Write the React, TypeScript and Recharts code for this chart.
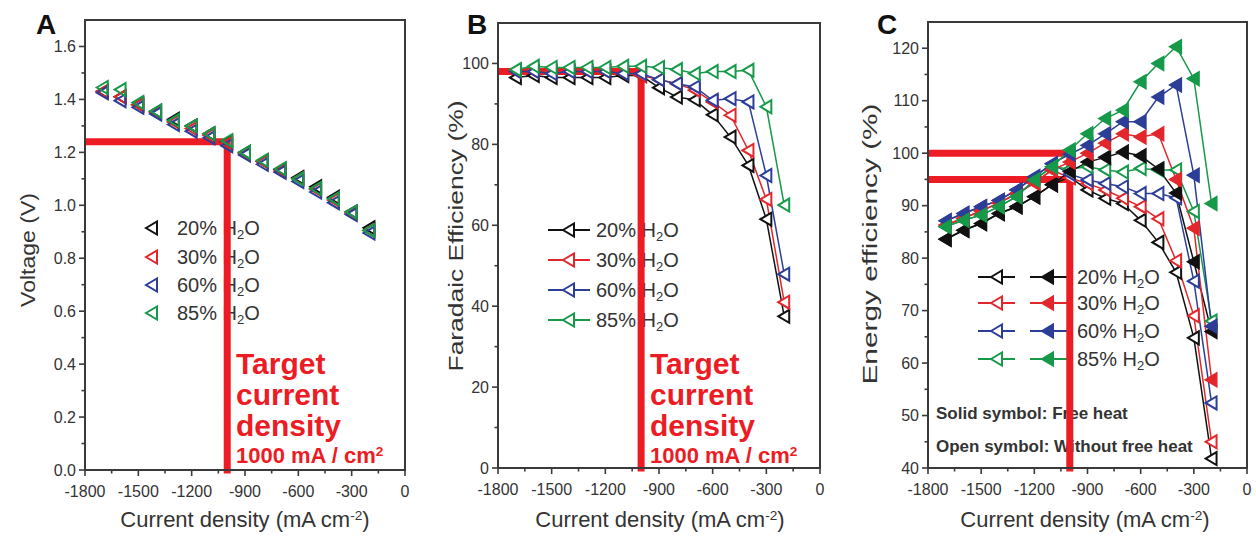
import React from "react";
import { LineChart, Line, XAxis, YAxis, ReferenceLine, ReferenceArea } from "recharts";

const FONT = '"Liberation Sans", Arial, Helvetica, sans-serif';
const AXIS = "#3a3a3a";
const TEXT = "#333";
const MARK = "#ed1c24";
const BLACK = "#111111";
const RED = "#e2272c";
const BLUE = "#2c3e98";
const GREEN = "#17994a";
const seriesColors = [BLACK, RED, BLUE, GREEN];
const waterLabels = ["20%", "30%", "60%", "85%"];

// current density of every measured point, mA cm-2
const currentDensity = [-1700, -1600, -1500, -1400, -1300, -1200, -1100, -1000, -900, -800, -700, -600, -500, -400, -300, -200];

// A: voltage (V)
const voltage20 = [1.43, 1.41, 1.38, 1.355, 1.325, 1.3, 1.27, 1.24, 1.2, 1.165, 1.135, 1.105, 1.07, 1.03, 0.975, 0.915];
const voltage30 = [1.43, 1.41, 1.38, 1.35, 1.315, 1.29, 1.265, 1.235, 1.195, 1.165, 1.13, 1.1, 1.06, 1.02, 0.97, 0.905];
const voltage60 = [1.425, 1.395, 1.37, 1.345, 1.305, 1.28, 1.255, 1.225, 1.19, 1.155, 1.125, 1.09, 1.05, 1.01, 0.965, 0.895];
const voltage85 = [1.445, 1.437, 1.388, 1.356, 1.32, 1.3, 1.27, 1.244, 1.2, 1.17, 1.138, 1.1, 1.063, 1.025, 0.975, 0.905];

// B: faradaic efficiency (%)
const fe20 = [96.5, 97, 96.5, 96.5, 96.5, 96.5, 97, 97, 94, 91.7, 91, 87.3, 81.8, 74.8, 61.5, 37.5];
const fe30 = [98, 98, 98, 98, 98, 98, 97.5, 97, 96, 95, 93.4, 90.5, 87.2, 78.5, 66.4, 41];
const fe60 = [98, 98, 97.5, 98, 98, 98, 97.5, 97.5, 96, 95, 94.2, 90.9, 91.3, 90.5, 72.3, 47.9];
const fe85 = [98.5, 99.3, 99, 99, 99, 99, 99.3, 99.3, 99, 98.5, 97.5, 98, 98, 98.3, 89.3, 65];

// C: energy efficiency (%), open = without free heat, solid = free heat
const eeOpen20 = [83.6, 85.3, 86.6, 88.5, 89.8, 91.7, 94, 95.5, 93, 91.4, 90.4, 87.2, 83, 77.3, 64.8, 41.8];
const eeOpen30 = [86.3, 87.6, 89, 90.5, 92.3, 94.3, 96.8, 95.3, 94.2, 93, 91.4, 89.8, 87.5, 79.5, 69, 45];
const eeOpen60 = [87.1, 88.5, 89.8, 91, 93, 95.5, 98, 96, 94.9, 94.2, 93.6, 92.3, 92.3, 91.5, 75.6, 52.4];
const eeOpen85 = [86, 87.2, 88.2, 89.8, 91.7, 94.9, 97.4, 97, 97.4, 96.8, 96.4, 97.1, 96.8, 96.8, 88.9, 68];
const eeSolid20 = [83.6, 85.3, 86.6, 88.5, 89.8, 91.7, 94, 96.5, 98.3, 99.2, 100.2, 99.5, 97, 92.4, 79.3, 66];
const eeSolid30 = [86.3, 87.6, 89, 90.5, 92.3, 94.3, 96.8, 98.3, 100, 101.9, 103.7, 103.1, 103.7, 95, 85.7, 56.8];
const eeSolid60 = [87.1, 88.5, 89.8, 91, 93, 95.5, 98, 99.8, 101.5, 103.7, 106, 106, 110.7, 113, 95.8, 67];
const eeSolid85 = [86, 87.2, 88.2, 89.8, 91.7, 94.9, 97.4, 100.6, 103.7, 106.6, 108.2, 113.6, 117.1, 120.3, 114.2, 90.4];

// axes
const xTicks = [-1800, -1650, -1500, -1350, -1200, -1050, -900, -750, -600, -450, -300, -150, 0];
const xMajor = [-1800, -1500, -1200, -900, -600, -300, 0];
const voltageTicks = [0, 0.1, 0.2, 0.3, 0.4, 0.5, 0.6, 0.7, 0.8, 0.9, 1.0, 1.1, 1.2, 1.3, 1.4, 1.5, 1.6];
const voltageMajor = [0, 0.2, 0.4, 0.6, 0.8, 1.0, 1.2, 1.4, 1.6];
const feTicks = [0, 10, 20, 30, 40, 50, 60, 70, 80, 90, 100];
const feMajor = [0, 20, 40, 60, 80, 100];
const eeTicks = [40, 45, 50, 55, 60, 65, 70, 75, 80, 85, 90, 95, 100, 105, 110, 115, 120];
const eeMajor = [40, 50, 60, 70, 80, 90, 100, 110, 120];

// target lines
const targetCurrent = -1000;
const targetVoltage = 1.24;
const targetFe = 98;
const targetEe = [100, 95];

const rows = (cols: number[][]) =>
  currentDensity.map((x, i) => {
    const r: any = { x };
    cols.forEach((c, k) => (r["s" + k] = c[i]));
    return r;
  });

const voltageRows = rows([voltage20, voltage30, voltage60, voltage85]);
const feRows = rows([fe20, fe30, fe60, fe85]);
const eeRows = rows([eeOpen20, eeOpen30, eeOpen60, eeOpen85, eeSolid20, eeSolid30, eeSolid60, eeSolid85]);

const isMajor = (list: number[], v: number) => list.some((m) => Math.abs(m - v) < 1e-6);

function Tri({ cx, cy, color, fill }: any) {
  if (cx == null || cy == null) return null;
  const d = `M${cx - 6},${cy} L${cx + 5},${cy - 6.5} L${cx + 5},${cy + 6.5} Z`;
  return <path d={d} fill={fill} stroke={color} strokeWidth={2} />;
}

const xTick = (p: any) => {
  const v = p.payload.value;
  const major = isMajor(xMajor, v);
  return (
    <g>
      <line x1={p.x} x2={p.x} y1={p.y} y2={p.y + (major ? 6 : 3.5)} stroke={AXIS} strokeWidth={1.6} />
      {major && (
        <text x={p.x} y={p.y + 27} textAnchor="middle" fontSize={16} fontFamily={FONT} fill={TEXT}>
          {String(v)}
        </text>
      )}
    </g>
  );
};

const yTick = (majors: number[], fmt: (v: number) => string) => (p: any) => {
  const v = p.payload.value;
  const major = isMajor(majors, v);
  return (
    <g>
      <line x1={p.x} x2={p.x - (major ? 6 : 3.5)} y1={p.y} y2={p.y} stroke={AXIS} strokeWidth={1.6} />
      {major && (
        <text x={p.x - 9} y={p.y} dy="0.35em" textAnchor="end" fontSize={16} fontFamily={FONT} fill={TEXT}>
          {fmt(v)}
        </text>
      )}
    </g>
  );
};

const sub = { fontSize: "0.65em", verticalAlign: "-0.3em", lineHeight: 0 } as const;
const sup = { fontSize: "0.62em", verticalAlign: "0.5em", lineHeight: 0 } as const;

function Txt({ x, base, size, bold, color = TEXT, center, children }: any) {
  return (
    <div
      style={{
        position: "absolute",
        left: x,
        top: base - 0.8465 * size,
        fontSize: size,
        lineHeight: 1,
        fontWeight: bold ? 700 : 400,
        color,
        fontFamily: FONT,
        whiteSpace: "nowrap",
        transform: center ? "translateX(-50%)" : undefined,
      }}
    >
      {children}
    </div>
  );
}

function VTitle({ x, y, size, stretch, children }: any) {
  return (
    <div
      style={{
        position: "absolute",
        left: x,
        top: y,
        fontSize: size,
        lineHeight: 1,
        color: TEXT,
        fontFamily: FONT,
        whiteSpace: "nowrap",
        transform: `translate(-50%,-50%) rotate(-90deg) scaleX(${stretch})`,
      }}
    >
      {children}
    </div>
  );
}

const H2O = (
  <>
    H<span style={sub}>2</span>O
  </>
);

function Target({ x }: { x: number }) {
  return (
    <>
      <Txt x={x} base={374} size={30} bold color={MARK}>Target</Txt>
      <Txt x={x} base={405} size={30} bold color={MARK}>current</Txt>
      <Txt x={x} base={436} size={30} bold color={MARK}>density</Txt>
      <Txt x={x} base={464} size={22} bold color={MARK}>
        1000 mA / cm<span style={sup}>2</span>
      </Txt>
    </>
  );
}

const xTitle = (
  <>
    Current density (mA cm<span style={sup}>-2</span>)
  </>
);

const legendRowsA = [228, 257, 285, 313];
const legendRowsB = [230, 260, 290, 320];
const legendRowsC = [277, 303, 331, 359];

function Legends() {
  return (
    <svg width={1256} height={536} style={{ position: "absolute", left: 0, top: 0 }}>
      {legendRowsA.map((y, i) => (
        <Tri key={"a" + i} cx={152} cy={y} color={seriesColors[i]} fill="none" />
      ))}
      {legendRowsB.map((y, i) => (
        <g key={"b" + i}>
          <line x1={548} x2={590} y1={y} y2={y} stroke={seriesColors[i]} strokeWidth={1.8} />
          <Tri cx={569} cy={y} color={seriesColors[i]} fill="#fff" />
        </g>
      ))}
      {legendRowsC.map((y, i) => (
        <g key={"c" + i}>
          <line x1={978} x2={1015} y1={y} y2={y} stroke={seriesColors[i]} strokeWidth={1.8} />
          <Tri cx={997} cy={y} color={seriesColors[i]} fill="#fff" />
          <line x1={1030} x2={1067} y1={y} y2={y} stroke={seriesColors[i]} strokeWidth={1.8} />
          <Tri cx={1048} cy={y} color={seriesColors[i]} fill={seriesColors[i]} />
        </g>
      ))}
    </svg>
  );
}

const frame = (y1: number, y2: number) => (
  <ReferenceArea x1={-1800} x2={0} y1={y1} y2={y2} fill="none" fillOpacity={0} stroke={AXIS} strokeWidth={2} ifOverflow="visible" />
);

const redSeg = (a: { x: number; y: number }, b: { x: number; y: number }, key: string, cap = "butt") => (
  <ReferenceLine key={key} segment={[a, b]} stroke={MARK} strokeWidth={7} strokeLinecap={cap as any} ifOverflow="visible" />
);

const xAxis = (h: number) => (
  <XAxis
    type="number"
    dataKey="x"
    domain={[-1800, 0]}
    ticks={xTicks}
    interval={0}
    tickSize={0}
    tickMargin={0}
    tickLine={false}
    tick={xTick}
    axisLine={{ stroke: AXIS, strokeWidth: 2 }}
    height={h}
    allowDataOverflow
  />
);

export default function App() {
  return (
    <div style={{ position: "relative", width: 1256, height: 536, background: "#fff", overflow: "hidden" }}>
      <style>{"body{margin:0}"}</style>

      {/* text under the charts so the red lines sit on top */}
      <Txt x={36} base={35} size={28} bold color="#111">A</Txt>
      <Txt x={467} base={35} size={28} bold color="#111">B</Txt>
      <Txt x={877} base={35} size={28} bold color="#111">C</Txt>

      <VTitle x={28} y={250} size={20} stretch={1.15}>Voltage (V)</VTitle>
      <VTitle x={456} y={236} size={20} stretch={1.32}>Faradaic Efficiency (%)</VTitle>
      <VTitle x={870} y={244} size={20} stretch={1.49}>Energy efficiency (%)</VTitle>

      <Txt x={245} base={528} size={22} center>{xTitle}</Txt>
      <Txt x={660} base={528} size={22} center>{xTitle}</Txt>
      <Txt x={1085} base={528} size={22} center>{xTitle}</Txt>

      {legendRowsA.map((y, i) => (
        <Txt key={"ta" + i} x={177} base={y + 7.2} size={20}>
          {waterLabels[i]} {H2O}
        </Txt>
      ))}
      {legendRowsB.map((y, i) => (
        <Txt key={"tb" + i} x={596} base={y + 7.2} size={20}>
          {waterLabels[i]} {H2O}
        </Txt>
      ))}
      {legendRowsC.map((y, i) => (
        <Txt key={"tc" + i} x={1077} base={y + 7.2} size={20}>
          {waterLabels[i]} {H2O}
        </Txt>
      ))}
      <Txt x={936} base={419} size={17} bold>Solid symbol: Free heat</Txt>
      <Txt x={936} base={452} size={17} bold>Open symbol: Without free heat</Txt>

      <Target x={236} />
      <Target x={650} />

      <Legends />

      {/* A: voltage */}
      <div style={{ position: "absolute", left: 0, top: 0 }}>
        <LineChart width={420} height={536} data={voltageRows} margin={{ top: 20, right: 15, bottom: 0, left: 0 }}>
          {xAxis(66)}
          <YAxis
            type="number"
            domain={[0, 1.7]}
            ticks={voltageTicks}
            interval={0}
            tickSize={0}
            tickMargin={0}
            tickLine={false}
            tick={yTick(voltageMajor, (v) => v.toFixed(1))}
            axisLine={{ stroke: AXIS, strokeWidth: 2 }}
            width={85}
            allowDataOverflow
          />
          {frame(0, 1.7)}
          {redSeg({ x: -1800, y: targetVoltage }, { x: targetCurrent, y: targetVoltage }, "ah")}
          {redSeg({ x: targetCurrent, y: targetVoltage }, { x: targetCurrent, y: 0 }, "av", "square")}
          {[0, 1, 2, 3].map((k) => (
            <Line
              key={k}
              dataKey={"s" + k}
              stroke="none"
              isAnimationActive={false}
              activeDot={false}
              dot={(p: any) => <Tri key={"a" + k + "-" + p.index} cx={p.cx} cy={p.cy} color={seriesColors[k]} fill="none" />}
            />
          ))}
        </LineChart>
      </div>

      {/* B: faradaic efficiency */}
      <div style={{ position: "absolute", left: 420, top: 0 }}>
        <LineChart width={420} height={536} data={feRows} margin={{ top: 23, right: 20, bottom: 0, left: 0 }}>
          {xAxis(68)}
          <YAxis
            type="number"
            domain={[0, 110]}
            ticks={feTicks}
            interval={0}
            tickSize={0}
            tickMargin={0}
            tickLine={false}
            tick={yTick(feMajor, (v) => String(v))}
            axisLine={{ stroke: AXIS, strokeWidth: 2 }}
            width={78}
            allowDataOverflow
          />
          {frame(0, 110)}
          {redSeg({ x: -1800, y: targetFe }, { x: targetCurrent, y: targetFe }, "bh")}
          {redSeg({ x: targetCurrent, y: targetFe }, { x: targetCurrent, y: 0 }, "bv", "square")}
          {[0, 1, 2, 3].map((k) => (
            <Line
              key={k}
              type="linear"
              dataKey={"s" + k}
              stroke={seriesColors[k]}
              strokeWidth={1.5}
              isAnimationActive={false}
              activeDot={false}
              dot={(p: any) => <Tri key={"b" + k + "-" + p.index} cx={p.cx} cy={p.cy} color={seriesColors[k]} fill="#fff" />}
            />
          ))}
        </LineChart>
      </div>

      {/* C: energy efficiency */}
      <div style={{ position: "absolute", left: 840, top: 0 }}>
        <LineChart width={416} height={536} data={eeRows} margin={{ top: 22, right: 9, bottom: 0, left: 0 }}>
          {xAxis(68)}
          <YAxis
            type="number"
            domain={[40, 125]}
            ticks={eeTicks}
            interval={0}
            tickSize={0}
            tickMargin={0}
            tickLine={false}
            tick={yTick(eeMajor, (v) => String(v))}
            axisLine={{ stroke: AXIS, strokeWidth: 2 }}
            width={88}
            allowDataOverflow
          />
          {frame(40, 125)}
          {redSeg({ x: -1800, y: targetEe[0] }, { x: targetCurrent, y: targetEe[0] }, "ch1")}
          {redSeg({ x: -1800, y: targetEe[1] }, { x: targetCurrent, y: targetEe[1] }, "ch2")}
          {redSeg({ x: targetCurrent, y: targetEe[0] }, { x: targetCurrent, y: 40 }, "cv", "square")}
          {[0, 1, 2, 3, 4, 5, 6, 7].map((k) => {
            const c = seriesColors[k % 4];
            const solid = k >= 4;
            return (
              <Line
                key={k}
                type="linear"
                dataKey={"s" + k}
                stroke={c}
                strokeWidth={1.5}
                isAnimationActive={false}
                activeDot={false}
                dot={(p: any) => <Tri key={"c" + k + "-" + p.index} cx={p.cx} cy={p.cy} color={c} fill={solid ? c : "#fff"} />}
              />
            );
          })}
        </LineChart>
      </div>
    </div>
  );
}
